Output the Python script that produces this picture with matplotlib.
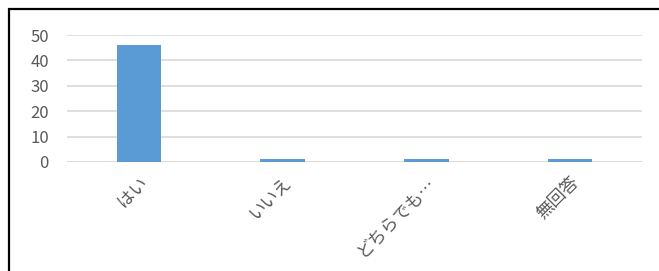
import matplotlib
matplotlib.use("Agg")
import matplotlib.pyplot as plt
from matplotlib.patches import Rectangle

categories = ["はい", "いいえ", "どちらでも…", "無回答"]
counts = [46, 1, 1, 1]
yticks = [0, 10, 20, 30, 40, 50]

plt.rcParams["font.family"] = ["Noto Sans CJK JP", "DejaVu Sans"]

W, H = 659, 271
fig = plt.figure(figsize=(W / 100, H / 100), dpi=100)
fig.patch.set_facecolor("white")

# outer chart frame (runs off the right and bottom edges)
fig.add_artist(Rectangle((9 / W, -0.2), 1.2, 1 - 9 / H + 0.2, transform=fig.transFigure,
                         fill=False, edgecolor="black", linewidth=1.6, clip_on=False))

ax = fig.add_axes([67 / W, 1 - 162 / H, (642 - 67) / W, (162 - 35) / H])
x = range(len(categories))
ax.bar(x, counts, width=0.31, color="#5B9BD5", zorder=3)
ax.set_xlim(-0.5, len(categories) - 0.5)
ax.set_ylim(0, 50)
ax.set_yticks(yticks)
ax.yaxis.grid(True, color="#D9D9D9", linewidth=1.2, zorder=0)
ax.set_axisbelow(True)
for s in ax.spines.values():
    s.set_visible(False)
ax.axhline(0, color="#D9D9D9", linewidth=1.2, zorder=1)
ax.tick_params(axis="both", length=0, colors="#595959")
ax.tick_params(axis="y", pad=13, labelsize=12)
ax.set_xticks(list(x))
ax.set_xticklabels(categories, rotation=45, ha="right", va="top", rotation_mode="anchor")
ax.tick_params(axis="x", pad=8, labelsize=12.5)

fig.savefig("out.png", dpi=100, facecolor="white")
